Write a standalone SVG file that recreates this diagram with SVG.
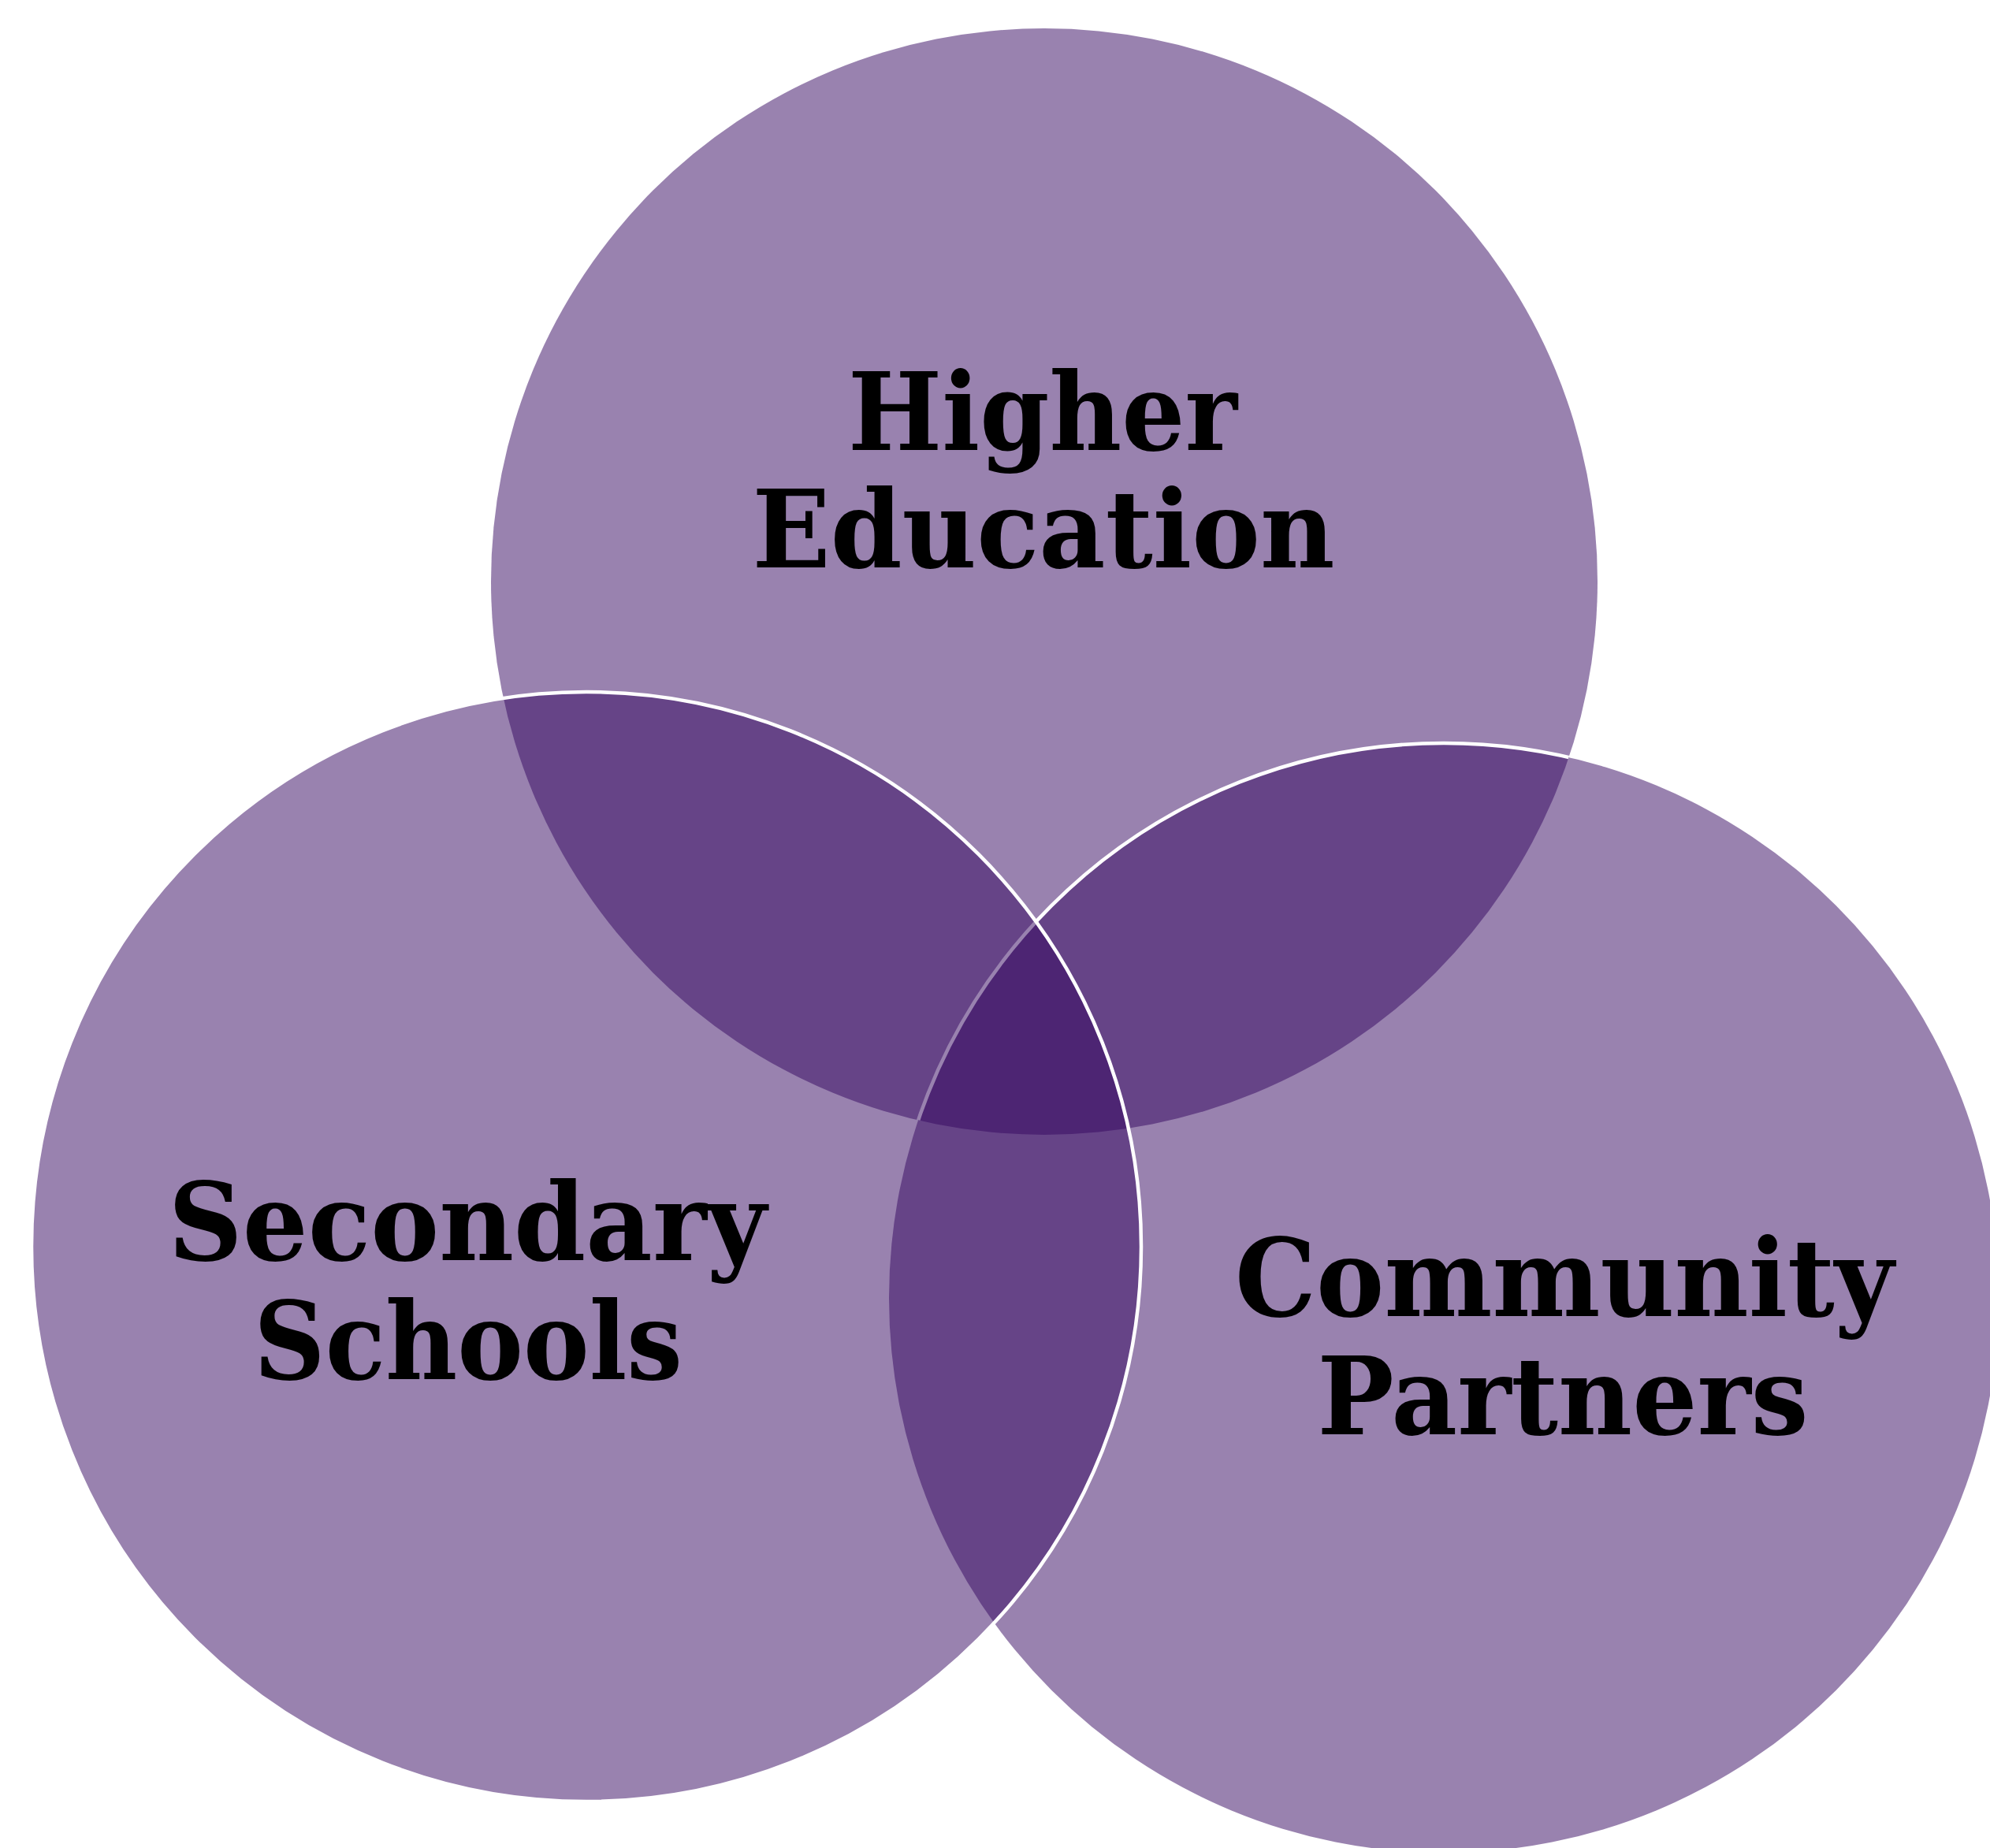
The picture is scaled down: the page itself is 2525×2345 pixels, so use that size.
<svg xmlns="http://www.w3.org/2000/svg" width="2525" height="2345" viewBox="0 0 2525 2345">
  <style>
    .disc { fill: #33055F; fill-opacity: 0.5; stroke: none; }
    .edge { fill: none; stroke: #FFFFFF; stroke-width: 4.5; }
    .label { font-family: "DejaVu Serif", "Liberation Serif", serif; font-weight: bold; font-size: 137px; fill: #000000; text-anchor: middle; }
  </style>
  <defs>
    <clipPath id="clip-top">
      <circle cx="1325" cy="738" r="702"/>
    </clipPath>
  </defs>
  <rect x="0" y="0" width="2525" height="2345" fill="#FFFFFF"/>

  <g id="higher-education">
    <circle class="disc" cx="1325" cy="738" r="702"/>
    <text class="label" x="1323" y="571" textLength="494" lengthAdjust="spacingAndGlyphs">Higher</text>
    <text class="label" x="1324" y="720" textLength="739" lengthAdjust="spacingAndGlyphs">Education</text>
  </g>

  <g id="community-partners">
    <circle class="disc" cx="1832" cy="1647" r="704"/>
    <circle class="edge" cx="1832" cy="1647" r="704" clip-path="url(#clip-top)"/>
    <text class="label" x="1985" y="1670" textLength="836" lengthAdjust="spacingAndGlyphs">Community</text>
    <text class="label" x="1983" y="1820" textLength="623" lengthAdjust="spacingAndGlyphs">Partners</text>
  </g>

  <g id="secondary-schools">
    <circle class="disc" cx="744" cy="1582" r="704"/>
    <circle class="edge" cx="744" cy="1582" r="704"/>
    <text class="label" x="593" y="1599" textLength="759" lengthAdjust="spacingAndGlyphs">Secondary</text>
    <text class="label" x="594" y="1750" textLength="544" lengthAdjust="spacingAndGlyphs">Schools</text>
  </g>

  <g id="connectors"/>
</svg>
